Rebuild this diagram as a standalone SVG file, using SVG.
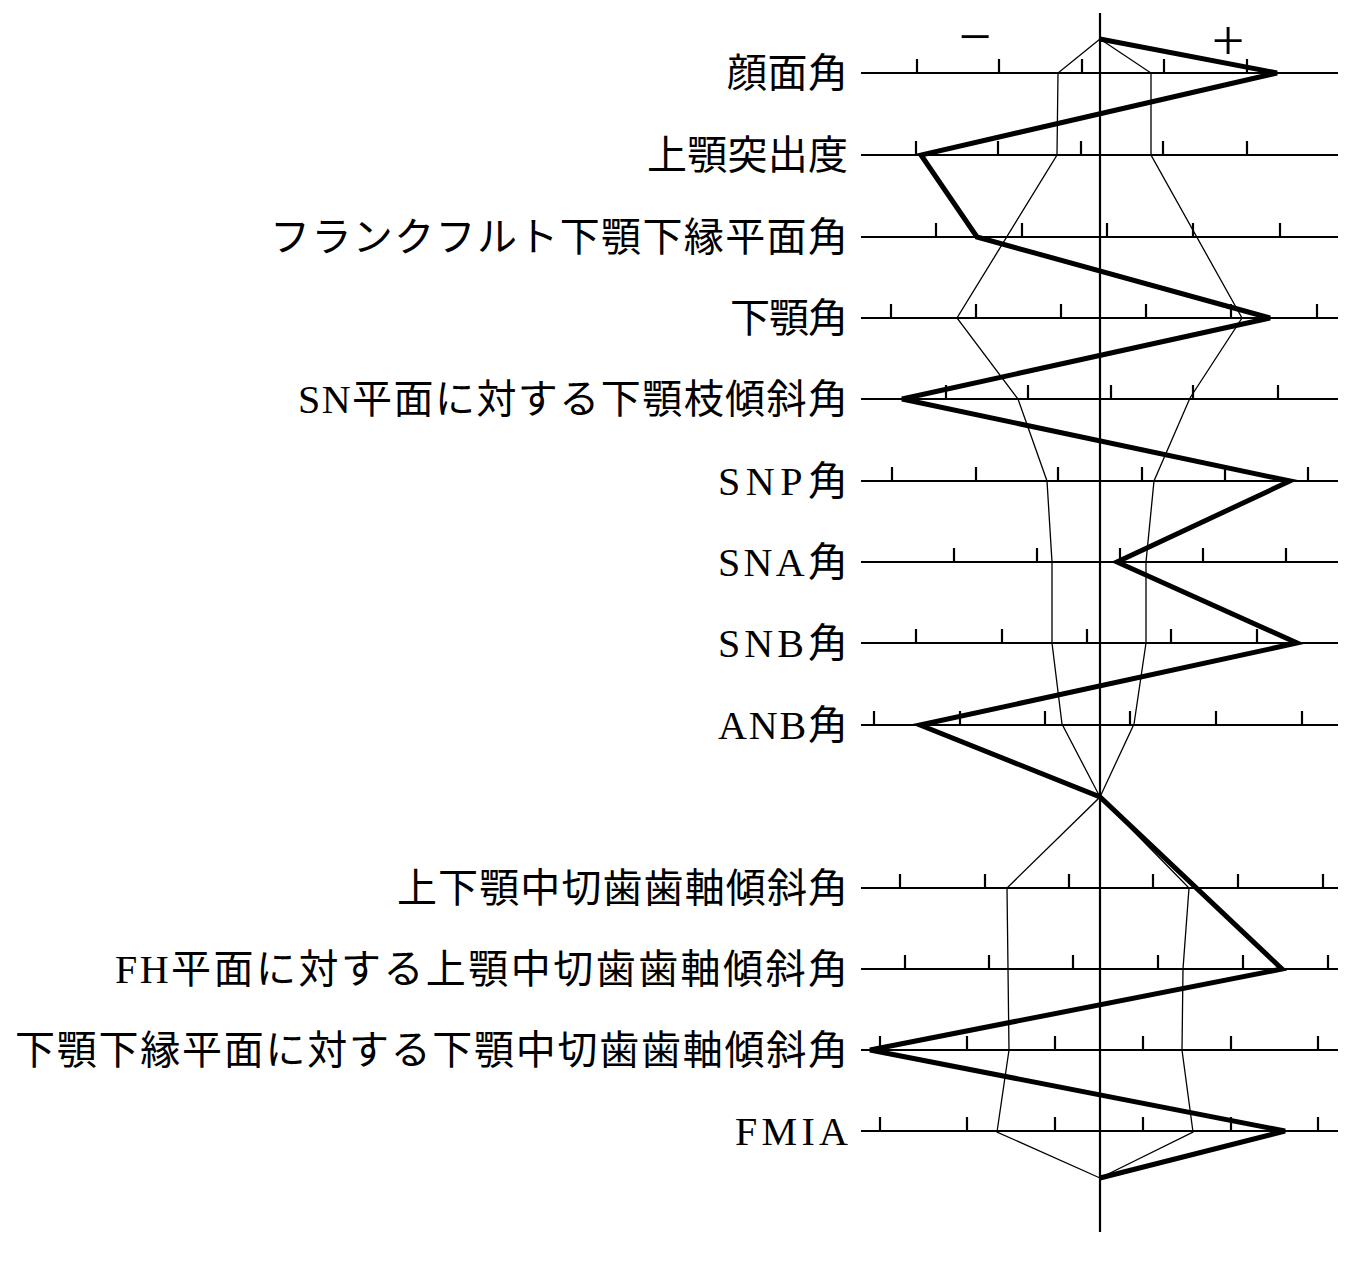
<svg xmlns="http://www.w3.org/2000/svg" width="1369" height="1264" viewBox="0 0 1369 1264">
<style>
.lbl{font-family:"Liberation Serif","Noto Sans CJK JP",serif;font-size:40px;fill:#000;text-anchor:end}
.ax{stroke:#000;stroke-width:2.2;fill:none}
.tk{stroke:#000;stroke-width:2.2}
.env{stroke:#000;stroke-width:1.3;fill:none}
.dat{stroke:#000;stroke-width:5;fill:none;stroke-linejoin:miter}
.sg{font-family:"Liberation Serif",serif;font-size:58px;fill:#000;text-anchor:middle}
</style>
<rect width="1369" height="1264" fill="#fff"/>
<g id="axes">
<line class="ax" x1="1100" y1="13" x2="1100" y2="1232"/>
<g id="rows">
<line class="ax" x1="861" y1="73" x2="1338" y2="73"/>
<line class="ax" x1="861" y1="155" x2="1338" y2="155"/>
<line class="ax" x1="861" y1="237" x2="1338" y2="237"/>
<line class="ax" x1="861" y1="318" x2="1338" y2="318"/>
<line class="ax" x1="861" y1="399" x2="1338" y2="399"/>
<line class="ax" x1="861" y1="481" x2="1338" y2="481"/>
<line class="ax" x1="861" y1="562" x2="1338" y2="562"/>
<line class="ax" x1="861" y1="643" x2="1338" y2="643"/>
<line class="ax" x1="861" y1="725" x2="1338" y2="725"/>
<line class="ax" x1="861" y1="888" x2="1338" y2="888"/>
<line class="ax" x1="861" y1="969" x2="1338" y2="969"/>
<line class="ax" x1="861" y1="1050" x2="1338" y2="1050"/>
<line class="ax" x1="861" y1="1131" x2="1338" y2="1131"/>
</g>
<path class="tk" d="M917 73v-14M999 73v-14M1082 73v-14M1164 73v-14M1247 73v-14
M916 155v-14M998 155v-14M1081 155v-14M1163 155v-14M1247 155v-14
M936 237v-14M1022 237v-14M1107 237v-14M1193 237v-14M1280 237v-14
M891 318v-14M976 318v-14M1061 318v-14M1146 318v-14M1231 318v-14M1317 318v-14
M946 399v-14M1028 399v-14M1111 399v-14M1193 399v-14M1278 399v-14
M892 481v-14M976 481v-14M1058 481v-14M1142 481v-14M1225 481v-14M1308 481v-14
M954 562v-14M1037 562v-14M1120 562v-14M1203 562v-14M1286 562v-14
M916 643v-14M1002 643v-14M1087 643v-14M1171 643v-14M1257 643v-14
M874 725v-14M960 725v-14M1045 725v-14M1130 725v-14M1216 725v-14M1302 725v-14
M900 888v-14M985 888v-14M1069 888v-14M1153 888v-14M1238 888v-14M1323 888v-14
M905 969v-14M989 969v-14M1073 969v-14M1158 969v-14M1243 969v-14M1328 969v-14
M880 1050v-14M967 1050v-14M1055 1050v-14M1143 1050v-14M1231 1050v-14M1318 1050v-14
M880 1131v-14M967 1131v-14M1055 1131v-14M1143 1131v-14M1231 1131v-14M1318 1131v-14"/>
<text class="sg" x="975" y="56">−</text>
<text class="sg" x="1228" y="60">+</text>
</g>
<g id="connectors">
<polyline class="env" points="1100,39 1058,73 1057,155 957,318 1018,399 1047,481 1052,562 1052,643 1062,724 1100,797 1007,888 1008,969 1009,1050 997,1132 1100,1178"/>
<polyline class="env" points="1100,39 1151,73 1151,155 1242,318 1190,398 1154,481 1146,562 1146,643 1134,724 1100,797 1189,888 1183,969 1182,1050 1193,1132 1100,1178"/>
<polyline class="dat" points="1100,39 1277,73 921,155 977,237 1270,318 902,399 1290,481 1117,562 1297,643 920,725 1100,797 1282,969 870,1050 1285,1131 1100,1178"/>
</g>
<g id="labels">
<text class="lbl" x="848" y="87" textLength="121">顔面角</text>
<text class="lbl" x="848" y="169" textLength="201">上顎突出度</text>
<text class="lbl" x="848" y="251" textLength="578">フランクフルト下顎下縁平面角</text>
<text class="lbl" x="848" y="332" textLength="118">下顎角</text>
<text class="lbl" x="848" y="413" textLength="550">SN平面に対する下顎枝傾斜角</text>
<text class="lbl" x="848" y="495" textLength="130">SNP角</text>
<text class="lbl" x="848" y="576" textLength="130">SNA角</text>
<text class="lbl" x="848" y="657" textLength="130">SNB角</text>
<text class="lbl" x="848" y="739" textLength="130">ANB角</text>
<text class="lbl" x="848" y="902" textLength="451">上下顎中切歯歯軸傾斜角</text>
<text class="lbl" x="848" y="983" textLength="733">FH平面に対する上顎中切歯歯軸傾斜角</text>
<text class="lbl" x="848" y="1064" textLength="833">下顎下縁平面に対する下顎中切歯歯軸傾斜角</text>
<text class="lbl" x="848" y="1145" textLength="113">FMIA</text>
</g>
</svg>
